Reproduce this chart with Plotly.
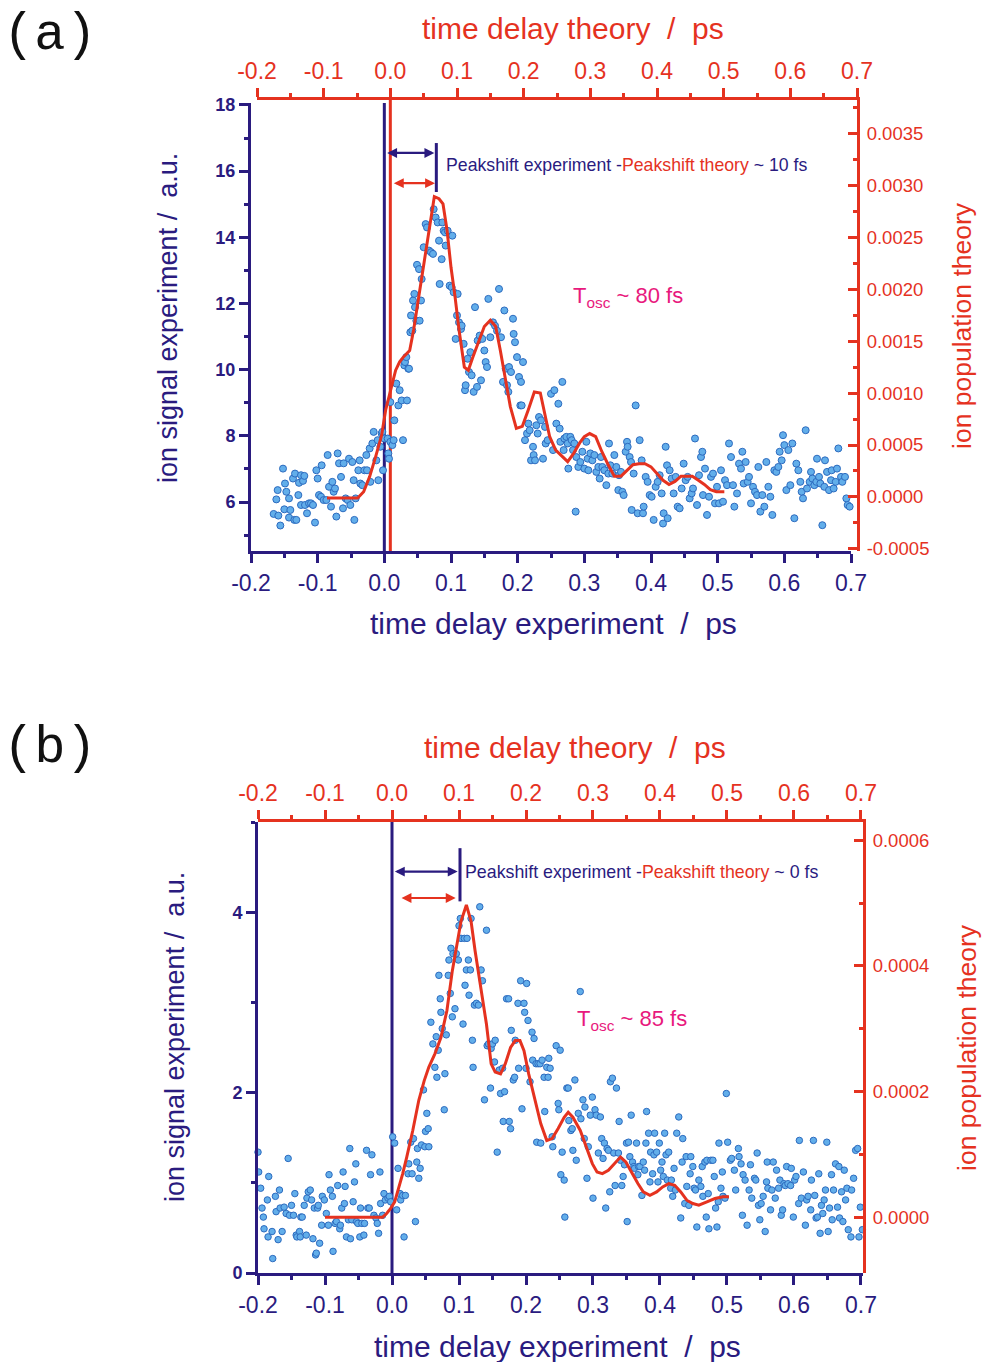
import plotly.graph_objects as go

W, H = 982, 1362
NAVY = "#2a1b7f"
RED = "#e5321f"
PINK = "#e8197d"
DOT_FILL = "#62aeea"
DOT_EDGE = "#2d6bbf"
FONT = "Liberation Sans, Arial, sans-serif"
MONO = "Liberation Mono, Courier New, monospace"

# ---------------- data: panel (a) ----------------
A_EXP = [
    (-0.166,5.64),(-0.159,5.59),(-0.162,6.08),(-0.160,6.36),(-0.156,5.29),(-0.152,7.01),(-0.150,5.78),(-0.147,6.31),
    (-0.149,6.56),(-0.143,6.11),(-0.141,5.76),(-0.143,5.53),(-0.137,6.71),(-0.135,5.46),(-0.132,5.46),(-0.134,6.86),
    (-0.129,6.21),(-0.128,6.58),(-0.125,6.81),(-0.125,5.91),(-0.122,6.64),(-0.120,6.79),(-0.119,5.91),(-0.116,5.66),
    (-0.113,5.96),(-0.110,5.96),(-0.107,5.91),(-0.104,5.38),(-0.102,6.96),(-0.100,6.71),(-0.098,6.21),(-0.095,6.16),
    (-0.094,7.11),(-0.091,6.06),(-0.087,6.06),(-0.085,7.42),(-0.083,6.46),(-0.080,5.86),(-0.078,6.61),(-0.076,6.31),
    (-0.074,6.41),(-0.072,5.56),(-0.070,7.47),(-0.068,7.17),(-0.065,6.76),(-0.062,5.81),(-0.061,7.17),(-0.058,6.11),
    (-0.055,6.06),(-0.053,7.31),(-0.051,5.91),(-0.048,7.21),(-0.046,6.66),(-0.045,5.46),(-0.043,6.11),(-0.039,6.96),
    (-0.037,7.26),(-0.036,6.56),(-0.033,6.51),(-0.030,6.96),(-0.027,7.42),(-0.026,6.96),(-0.022,7.62),(-0.021,6.61),
    (-0.018,7.77),(-0.016,8.12),(-0.012,7.26),(-0.010,7.87),(-0.009,6.66),(-0.006,7.67),(-0.004,8.07),(-0.003,8.12),
    (-0.002,6.96),(0.000,7.92),
    (0.005,7.92),(0.006,7.47),(0.007,7.31),(0.009,7.82),(0.012,7.72),(0.014,7.87),(0.009,9.02),(0.015,8.47),
    (0.018,9.58),(0.021,8.92),(0.023,9.38),(0.026,9.07),(0.028,7.87),(0.030,10.13),(0.031,10.23),(0.033,10.38),
    (0.034,9.07),(0.036,10.03),(0.037,10.03),(0.039,11.13),(0.040,11.64),(0.042,11.18),(0.043,12.09),(0.045,12.29),
    (0.046,11.89),(0.048,11.48),(0.049,13.17),(0.052,13.04),(0.053,11.48),(0.055,12.09),(0.056,12.74),(0.059,13.70),
    (0.062,14.40),(0.064,14.30),(0.067,13.60),(0.070,13.55),(0.073,13.50),(0.074,14.85),(0.077,14.60),(0.080,14.45),
    (0.082,13.90),(0.083,12.59),(0.086,13.34),(0.087,14.45),(0.089,14.20),(0.091,14.15),(0.092,13.75),(0.095,14.20),
    (0.098,12.54),(0.101,12.49),(0.102,14.05),(0.104,12.34),(0.107,10.93),(0.109,11.64),(0.110,12.29),(0.112,11.43),
    (0.115,11.23),(0.116,11.33),(0.119,10.78),(0.121,9.38),(0.122,9.53),(0.125,10.33),(0.127,9.93),(0.129,10.53),
    (0.131,9.83),(0.134,9.33),(0.136,11.89),(0.139,9.48),(0.140,10.88),(0.143,11.03),(0.145,9.68),(0.147,10.93),
    (0.150,10.58),(0.152,10.23),(0.154,10.08),(0.156,12.14),(0.159,10.98),(0.163,11.43),(0.166,11.33),(0.169,11.18),
    (0.172,12.44),(0.175,10.98),(0.178,9.63),(0.180,11.79),(0.182,10.03),(0.184,9.53),(0.186,9.33),(0.187,10.08),
    (0.190,9.93),(0.193,11.54),(0.194,11.08),(0.196,10.83),(0.199,10.38),(0.202,9.78),(0.204,8.92),(0.205,9.63),
    (0.206,8.92),(0.208,10.23),(0.211,7.87),(0.214,8.07),(0.216,8.37),(0.218,8.17),(0.220,7.26),(0.223,7.67),
    (0.224,7.42),(0.226,7.26),(0.228,8.32),(0.230,8.07),(0.232,8.57),(0.235,8.47),(0.238,7.31),(0.241,8.27),
    (0.242,7.77),(0.245,7.87),(0.250,9.27),(0.253,7.57),(0.255,9.38),(0.258,8.37),(0.261,8.97),(0.263,8.22),
    (0.264,7.82),(0.267,9.63),(0.269,7.57),(0.270,7.92),(0.273,7.97),(0.275,7.77),(0.276,7.01),(0.279,7.97),
    (0.281,7.87),(0.283,7.57),(0.285,7.77),(0.287,5.71),(0.288,7.36),(0.291,7.06),(0.294,7.21),(0.297,7.52),
    (0.300,7.01),(0.303,7.82),(0.305,7.31),(0.306,6.96),(0.309,7.47),(0.312,7.26),(0.315,7.42),(0.318,6.91),
    (0.321,7.06),(0.323,6.71),(0.325,7.36),(0.327,7.06),(0.330,6.96),(0.333,6.51),(0.336,6.86),(0.337,7.77),
    (0.339,7.11),(0.342,6.86),(0.345,7.42),(0.348,7.06),(0.351,6.36),(0.352,6.81),(0.355,6.91),(0.357,6.31),
    (0.359,6.21),(0.362,7.52),(0.364,7.82),(0.365,7.67),(0.368,7.36),(0.370,7.21),(0.371,5.76),(0.374,6.86),
    (0.377,8.92),(0.380,5.66),(0.383,7.87),(0.386,7.26),(0.388,5.66),(0.389,5.86),(0.392,6.76),(0.395,6.61),
    (0.398,6.21),(0.401,6.16),(0.404,5.46),(0.407,6.46),(0.410,6.61),(0.413,6.81),(0.416,6.26),(0.418,5.35),
    (0.419,5.66),(0.422,7.67),(0.424,7.11),(0.425,5.51),(0.428,6.96),(0.431,6.71),(0.434,6.26),(0.437,6.76),
    (0.440,5.86),(0.443,5.81),(0.446,6.41),(0.449,7.16),(0.452,6.66),(0.455,6.76),(0.458,6.11),(0.461,6.26),
    (0.463,6.41),(0.466,7.92),(0.469,5.91),(0.472,6.81),(0.475,7.36),(0.477,7.52),(0.478,6.21),(0.481,7.01),
    (0.484,5.61),(0.487,6.16),(0.490,6.76),(0.493,6.86),(0.496,5.96),(0.499,6.46),(0.502,5.96),(0.505,6.96),
    (0.508,6.01),(0.511,6.66),(0.514,6.51),(0.517,7.77),(0.520,7.36),(0.523,6.51),(0.525,5.86),(0.529,6.26),
    (0.532,7.16),(0.535,7.01),(0.537,7.52),(0.539,6.56),(0.542,7.21),(0.545,6.61),(0.547,6.76),(0.550,5.96),
    (0.553,6.46),(0.556,6.31),(0.559,6.21),(0.561,7.06),(0.564,5.71),(0.567,6.21),(0.570,5.86),(0.573,7.21),
    (0.576,6.46),(0.579,6.16),(0.582,5.61),(0.585,6.96),(0.588,6.91),(0.591,7.06),(0.593,7.52),(0.596,7.26),
    (0.598,8.02),(0.600,7.72),(0.603,6.36),(0.606,7.57),(0.609,6.51),(0.612,7.77),(0.615,5.51),(0.618,7.16),
    (0.621,6.96),(0.624,6.61),(0.626,6.31),(0.628,6.11),(0.632,8.17),(0.634,6.41),(0.638,6.61),(0.640,6.91),
    (0.642,6.71),(0.645,6.51),(0.648,6.61),(0.649,7.31),(0.652,6.76),(0.654,6.56),(0.657,5.30),(0.660,6.46),
    (0.661,7.26),(0.664,6.91),(0.667,6.36),(0.670,6.66),(0.671,6.96),(0.674,6.41),(0.677,6.61),(0.679,7.01),
    (0.681,7.62),(0.685,6.76),(0.687,6.61),(0.691,6.76),(0.693,6.11),(0.695,5.91),(0.698,5.86),(0.701,6.76),
]
A_THEORY = [
    (-0.095,-0.00001),(-0.049,-0.00001),(-0.040,0.00005),(-0.031,0.000196),(-0.022,0.000388),(-0.013,0.000596),
    (-0.007,0.000837),(0.002,0.00106),(0.008,0.00122),(0.014,0.00130),(0.020,0.00135),(0.029,0.00141),
    (0.035,0.00161),(0.041,0.00186),(0.049,0.00218),(0.058,0.00257),(0.066,0.00289),(0.073,0.00287),
    (0.079,0.00282),(0.085,0.00257),(0.091,0.00221),(0.097,0.00193),(0.103,0.00161),(0.111,0.00125),
    (0.117,0.00122),(0.124,0.00135),(0.133,0.00151),(0.141,0.00164),(0.150,0.00170),(0.158,0.00164),
    (0.165,0.00141),(0.172,0.00116),(0.180,0.00087),(0.189,0.00066),(0.198,0.00068),(0.207,0.00084),
    (0.216,0.00101),(0.225,0.00100),(0.232,0.00080),(0.239,0.00058),(0.248,0.00045),(0.257,0.00039),
    (0.266,0.00034),(0.275,0.00042),(0.284,0.00052),(0.291,0.00058),(0.299,0.00061),(0.308,0.00058),
    (0.317,0.00044),(0.326,0.00032),(0.336,0.00020),(0.346,0.00020),(0.355,0.00026),(0.364,0.00031),
    (0.373,0.00032),(0.382,0.00032),(0.391,0.00029),(0.400,0.00023),(0.409,0.00016),(0.418,0.00012),
    (0.427,0.00015),(0.436,0.00020),(0.445,0.00020),(0.453,0.00020),(0.462,0.00016),(0.471,0.00012),
    (0.480,0.00007),(0.489,0.00005),(0.501,0.00005),
]

# ---------------- data: panel (b) ----------------
B_EXP = [
    (-0.200,1.34),(-0.199,1.12),(-0.196,0.94),(-0.194,0.72),(-0.192,0.62),(-0.191,0.49),(-0.186,0.81),(-0.185,0.40),
    (-0.184,1.07),(-0.179,0.46),(-0.178,0.16),(-0.174,0.85),(-0.173,0.68),(-0.170,0.37),(-0.168,0.92),(-0.167,0.72),
    (-0.164,0.46),(-0.161,0.73),(-0.158,0.66),(-0.155,1.27),(-0.153,0.64),(-0.150,0.75),(-0.147,0.64),(-0.145,0.88),
    (-0.143,0.42),(-0.142,0.40),(-0.138,0.46),(-0.137,0.40),(-0.136,0.62),(-0.134,0.62),(-0.131,0.75),(-0.128,0.42),
    (-0.127,0.83),(-0.125,0.90),(-0.122,0.92),(-0.120,0.81),(-0.118,0.38),(-0.116,0.72),(-0.114,0.20),(-0.113,0.22),
    (-0.111,0.72),(-0.110,0.75),(-0.108,0.33),(-0.105,0.53),(-0.104,0.85),(-0.101,0.81),(-0.098,0.66),(-0.095,0.53),
    (-0.094,1.09),(-0.092,0.92),(-0.089,0.85),(-0.088,0.24),(-0.085,0.55),(-0.083,0.57),(-0.081,0.97),(-0.078,0.49),
    (-0.077,0.53),(-0.075,0.72),(-0.073,1.12),(-0.071,0.77),(-0.070,0.96),(-0.068,0.40),(-0.065,0.59),(-0.063,1.38),
    (-0.062,0.38),(-0.060,0.59),(-0.058,0.79),(-0.056,1.01),(-0.054,1.21),(-0.053,0.57),(-0.051,0.55),(-0.048,0.40),
    (-0.047,0.72),(-0.045,0.55),(-0.042,0.42),(-0.041,0.55),(-0.038,1.36),(-0.036,0.72),(-0.034,0.72),(-0.032,1.09),
    (-0.030,1.31),(-0.027,0.64),(-0.024,0.61),(-0.022,0.55),(-0.020,0.44),(-0.018,1.12),(-0.017,0.77),(-0.014,0.64),
    (-0.012,0.88),(-0.010,0.81),(-0.006,0.83),(-0.004,0.85),(-0.002,0.79),
    (0.001,1.51),(0.004,1.44),(0.007,0.70),(0.009,1.16),(0.012,0.88),(0.013,0.81),(0.016,0.86),(0.018,0.40),
    (0.020,0.86),(0.024,1.10),(0.025,1.21),(0.028,1.45),(0.030,1.10),(0.032,1.49),(0.035,0.57),(0.037,1.23),
    (0.038,1.38),(0.040,1.05),(0.042,1.16),(0.044,1.42),(0.047,2.03),(0.049,1.40),(0.050,1.57),(0.052,1.77),
    (0.054,1.60),(0.055,1.40),(0.058,2.78),(0.061,2.54),(0.064,2.28),(0.066,2.62),(0.067,2.17),(0.069,2.47),
    (0.070,3.30),(0.072,3.04),(0.073,2.89),(0.075,2.71),(0.078,1.81),(0.079,2.21),(0.081,2.64),(0.084,3.30),
    (0.085,3.47),(0.087,3.10),(0.088,3.60),(0.090,2.84),(0.091,3.54),(0.094,2.93),(0.096,3.54),(0.099,3.47),
    (0.100,3.85),(0.102,3.93),(0.103,3.71),(0.106,2.76),(0.108,3.71),(0.109,3.19),(0.111,3.36),(0.112,3.71),
    (0.114,3.47),(0.115,3.08),(0.117,3.36),(0.118,3.93),(0.120,2.58),(0.121,2.28),(0.123,2.97),(0.126,2.99),
    (0.129,2.97),(0.131,4.06),(0.133,3.36),(0.135,3.24),(0.138,1.92),(0.141,3.80),(0.142,2.52),(0.144,2.54),
    (0.147,2.05),(0.148,2.49),(0.150,2.54),(0.153,2.34),(0.154,2.58),(0.157,1.34),(0.160,2.25),(0.162,1.99),
    (0.165,2.27),(0.166,1.68),(0.168,2.01),(0.171,3.04),(0.174,3.04),(0.175,1.68),(0.177,1.60),(0.178,2.69),
    (0.181,2.14),(0.183,2.17),(0.184,2.58),(0.188,2.99),(0.189,2.27),(0.192,3.24),(0.194,1.82),(0.197,2.99),
    (0.198,2.89),(0.200,2.27),(0.201,3.21),(0.203,2.80),(0.206,2.12),(0.209,2.67),(0.210,2.36),(0.212,2.60),
    (0.215,2.32),(0.216,1.45),(0.218,2.32),(0.221,2.32),(0.222,1.44),(0.224,2.36),(0.227,2.17),(0.228,1.79),
    (0.231,2.28),(0.233,2.17),(0.234,2.38),(0.236,2.27),(0.239,1.51),(0.240,1.40),(0.245,2.52),(0.248,1.88),
    (0.249,1.81),(0.251,2.47),(0.252,1.09),(0.254,1.34),(0.257,1.03),(0.258,0.62),(0.261,2.05),(0.263,2.05),
    (0.264,1.69),(0.267,1.58),(0.269,1.60),(0.270,1.36),(0.273,2.14),(0.275,1.25),(0.278,1.77),(0.281,3.12),
    (0.282,1.71),(0.285,1.92),(0.287,1.49),(0.288,1.84),(0.291,1.05),(0.293,1.40),(0.296,1.75),(0.299,1.95),
    (0.300,0.83),(0.303,1.81),(0.305,1.75),(0.308,1.33),(0.311,1.73),(0.313,1.49),(0.315,1.27),(0.317,1.44),
    (0.319,0.72),(0.321,1.38),(0.323,1.36),(0.325,0.90),(0.326,2.12),(0.329,2.16),(0.331,1.33),(0.333,0.97),
    (0.335,2.05),(0.338,1.33),(0.339,1.68),(0.341,1.25),(0.343,0.97),(0.345,1.07),(0.347,1.20),(0.350,1.44),
    (0.351,0.57),(0.353,1.45),(0.355,1.29),(0.357,1.75),(0.359,1.23),(0.361,1.18),(0.362,1.16),(0.365,1.44),
    (0.367,1.09),(0.368,1.18),(0.370,1.18),(0.373,0.86),(0.375,1.23),(0.377,1.14),(0.379,1.44),(0.380,1.79),
    (0.383,1.55),(0.385,1.01),(0.386,1.34),(0.389,1.10),(0.391,1.31),(0.392,1.55),(0.395,1.34),(0.397,1.01),
    (0.399,1.44),(0.401,1.14),(0.403,1.23),(0.405,1.07),(0.407,1.55),(0.409,1.31),(0.411,1.03),(0.413,1.34),
    (0.416,0.94),(0.417,1.03),(0.419,0.85),(0.421,1.16),(0.423,0.92),(0.425,1.55),(0.428,1.73),(0.431,0.61),
    (0.433,1.23),(0.434,1.49),(0.437,0.77),(0.439,1.29),(0.440,0.96),(0.443,0.75),(0.445,1.10),(0.446,1.29),
    (0.449,1.18),(0.451,0.94),(0.453,0.92),(0.455,0.51),(0.458,1.03),(0.461,0.96),(0.463,1.18),(0.464,0.85),
    (0.467,1.23),(0.469,0.62),(0.470,1.25),(0.472,0.88),(0.473,0.49),(0.476,1.25),(0.479,1.25),(0.481,1.07),
    (0.483,0.72),(0.485,0.51),(0.487,0.79),(0.488,1.44),(0.491,0.94),(0.493,1.12),(0.494,0.85),(0.497,0.83),
    (0.499,1.99),(0.501,1.45),(0.505,1.25),(0.507,1.27),(0.511,1.14),(0.513,0.92),(0.517,1.38),(0.518,1.29),
    (0.521,1.21),(0.523,0.64),(0.524,1.09),(0.527,1.03),(0.530,0.53),(0.533,0.92),(0.535,1.20),(0.537,0.83),
    (0.541,1.05),(0.543,1.03),(0.545,1.33),(0.547,0.75),(0.549,0.59),(0.551,0.77),(0.554,0.85),(0.557,0.46),
    (0.559,1.01),(0.560,1.23),(0.561,0.94),(0.565,0.70),(0.567,0.92),(0.569,1.23),(0.572,0.83),(0.574,1.14),
    (0.577,0.94),(0.579,1.03),(0.581,0.64),(0.583,0.70),(0.585,0.99),(0.587,0.97),(0.589,1.18),(0.591,0.99),
    (0.595,0.97),(0.596,1.16),(0.599,0.62),(0.601,1.03),(0.603,1.07),(0.607,0.77),(0.608,1.47),(0.611,0.83),
    (0.614,1.12),(0.617,0.53),(0.619,0.81),(0.621,0.85),(0.625,0.70),(0.626,1.03),(0.629,1.47),(0.631,0.86),
    (0.633,0.61),(0.635,0.62),(0.637,1.10),(0.639,0.44),(0.641,0.75),(0.643,0.66),(0.645,0.81),(0.647,0.92),
    (0.649,1.45),(0.651,0.46),(0.653,0.72),(0.656,1.09),(0.657,0.59),(0.659,0.92),(0.662,1.21),(0.665,0.73),
    (0.667,1.18),(0.668,0.61),(0.671,0.90),(0.673,0.57),(0.675,1.14),(0.677,0.81),(0.679,0.94),(0.681,0.48),
    (0.685,0.40),(0.686,0.92),(0.689,1.05),(0.692,1.36),(0.695,1.38),(0.697,0.40),(0.699,0.73),(0.702,0.48),
]
B_THEORY = [
    (-0.100,0.0),(-0.014,0.0),(-0.008,0.0000058),(-0.002,0.0000138),(0.004,0.0000243),(0.010,0.0000455),
    (0.016,0.0000693),(0.022,0.0000957),(0.031,0.000138),(0.040,0.000186),(0.048,0.000217),(0.055,0.000239),
    (0.064,0.000260),(0.073,0.000286),(0.082,0.000329),(0.090,0.000392),(0.096,0.000429),(0.103,0.000471),
    (0.111,0.000497),(0.118,0.000471),(0.124,0.000424),(0.132,0.000366),(0.141,0.000307),(0.148,0.000244),
    (0.154,0.000231),(0.162,0.000228),(0.169,0.000244),(0.177,0.000270),(0.184,0.000281),(0.191,0.000281),
    (0.197,0.000265),(0.204,0.000228),(0.213,0.000186),(0.222,0.000149),(0.231,0.000122),(0.239,0.000125),
    (0.248,0.000141),(0.257,0.000159),(0.263,0.000167),(0.270,0.000159),(0.281,0.000138),(0.290,0.000112),
    (0.299,0.0000852),(0.306,0.0000719),(0.314,0.0000693),(0.323,0.0000746),(0.332,0.0000852),(0.341,0.0000957),
    (0.349,0.0000878),(0.357,0.0000719),(0.367,0.0000534),(0.375,0.0000402),(0.385,0.0000349),(0.395,0.0000402),
    (0.404,0.0000481),(0.413,0.0000534),(0.422,0.0000508),(0.431,0.0000402),(0.440,0.000027),(0.449,0.0000217),
    (0.458,0.000019),(0.470,0.0000243),(0.482,0.0000296),(0.494,0.0000323),(0.503,0.0000323),
]

# ---------------- tick values / labels ----------------
T_TICKS = [-0.2, -0.1, 0.0, 0.1, 0.2, 0.3, 0.4, 0.5, 0.6, 0.7]
T_LABELS = ["-0.2", "-0.1", "0.0", "0.1", "0.2", "0.3", "0.4", "0.5", "0.6", "0.7"]
A_SIG_TICKS = [6, 8, 10, 12, 14, 16, 18]
A_SIG_LABELS = ["6", "8", "10", "12", "14", "16", "18"]
A_POP_TICKS = [-0.0005, 0.0, 0.0005, 0.0010, 0.0015, 0.0020, 0.0025, 0.0030, 0.0035]
A_POP_LABELS = ["-0.0005", "0.0000", "0.0005", "0.0010", "0.0015", "0.0020", "0.0025", "0.0030", "0.0035"]
B_SIG_TICKS = [0, 2, 4]
B_SIG_LABELS = ["0", "2", "4"]
B_POP_TICKS = [0.0, 0.0002, 0.0004, 0.0006]
B_POP_LABELS = ["0.0000", "0.0002", "0.0004", "0.0006"]


def col(pairs, i):
    return [p[i] for p in pairs]


def px(x):
    return x / W


def py(y):
    return 1 - y / H


def axis(domain, rng, anchor, side, color, tv, tt, fsize, bold, ticks, minor_dtick, minor_tick0, standoff):
    return dict(
        domain=domain, range=rng, anchor=anchor, side=side,
        showline=True, linecolor=color, linewidth=3,
        ticks=ticks, ticklen=9, tickwidth=2.5, tickcolor=color,
        tickmode="array", tickvals=tv, ticktext=tt,
        tickfont=dict(family=FONT, size=fsize, color=color, weight="bold" if bold else "normal"),
        minor=dict(ticks=ticks, ticklen=4, tickwidth=2.5, tickcolor=color,
                   dtick=minor_dtick, tick0=minor_tick0, showgrid=False),
        showgrid=False, zeroline=False, fixedrange=True, automargin=False,
        ticklabelstandoff=standoff,
    )


fig = go.Figure()

marker_a = dict(size=7, color=DOT_FILL, line=dict(color=DOT_EDGE, width=1))
marker_b = dict(size=6.5, color=DOT_FILL, line=dict(color=DOT_EDGE, width=1))

fig.add_trace(go.Scatter(x=col(A_EXP, 0), y=col(A_EXP, 1), mode="markers", marker=marker_a,
                         xaxis="x", yaxis="y", cliponaxis=False, showlegend=False))
fig.add_trace(go.Scatter(x=col(A_THEORY, 0), y=col(A_THEORY, 1), mode="lines",
                         line=dict(color=RED, width=3), xaxis="x2", yaxis="y2", showlegend=False))
fig.add_trace(go.Scatter(x=col(B_EXP, 0), y=col(B_EXP, 1), mode="markers", marker=marker_b,
                         xaxis="x3", yaxis="y3", cliponaxis=False, showlegend=False))
fig.add_trace(go.Scatter(x=col(B_THEORY, 0), y=col(B_THEORY, 1), mode="lines",
                         line=dict(color=RED, width=3), xaxis="x4", yaxis="y4", showlegend=False))

A_XDOM = [px(251), px(851)]
A_X2DOM = [px(257), px(857)]
A_YDOM = [py(551), py(103)]
A_Y2DOM = [py(551), py(100)]
B_XDOM = [px(258), px(863)]
B_YDOM = [py(1273), py(822)]

fig.update_layout(
    xaxis=axis(A_XDOM, [-0.2, 0.7], "y", "bottom", NAVY, T_TICKS, T_LABELS, 23, False, "outside", 0.05, -0.2, 0),
    yaxis=axis(A_YDOM, [4.52, 18.06], "x", "left", NAVY, A_SIG_TICKS, A_SIG_LABELS, 18, True, "outside", 1, 0, 0),
    xaxis2=axis(A_X2DOM, [-0.2, 0.7], "y2", "top", RED, T_TICKS, T_LABELS, 23, False, "outside", 0.05, -0.2, 0),
    yaxis2=axis(A_Y2DOM, [-0.00052, 0.00382], "x2", "right", RED, A_POP_TICKS, A_POP_LABELS, 18.5, False, "inside", 0.00025, 0, 3),
    xaxis3=axis(B_XDOM, [-0.2, 0.703], "y3", "bottom", NAVY, T_TICKS, T_LABELS, 23, False, "outside", 0.05, -0.2, 0),
    yaxis3=axis(B_YDOM, [0, 5], "x3", "left", NAVY, B_SIG_TICKS, B_SIG_LABELS, 18, True, "outside", 1, 0, 0),
    xaxis4=axis(B_XDOM, [-0.2, 0.703], "y4", "top", RED, T_TICKS, T_LABELS, 23, False, "outside", 0.05, -0.2, 0),
    yaxis4=axis(B_YDOM, [-0.0000889, 0.000629], "x4", "right", RED, B_POP_TICKS, B_POP_LABELS, 18.5, False, "inside", 0.0001, 0, 3),
    width=W, height=H, autosize=False,
    margin=dict(l=0, r=0, t=0, b=0, pad=0, autoexpand=False),
    paper_bgcolor="white", plot_bgcolor="rgba(0,0,0,0)",
    font=dict(family=FONT, color=NAVY),
    showlegend=False,
)

shapes = [
    dict(type="line", xref="x", yref="y domain", x0=0, x1=0, y0=0, y1=1, line=dict(color=NAVY, width=3), layer="below"),
    dict(type="line", xref="x2", yref="y2 domain", x0=0, x1=0, y0=0, y1=1, line=dict(color=RED, width=3), layer="below"),
    dict(type="line", xref="x3", yref="y3 domain", x0=0, x1=0, y0=0, y1=1, line=dict(color=NAVY, width=3), layer="below"),
    dict(type="line", xref="x", yref="y", x0=0.078, x1=0.078, y0=15.37, y1=16.85, line=dict(color=NAVY, width=3)),
    dict(type="line", xref="x3", yref="y3", x0=0.1015, x1=0.1015, y0=4.12, y1=4.71, line=dict(color=NAVY, width=3)),
]
fig.update_layout(shapes=shapes)

ann = []


def arrow(xref, yref, x0, x1, y, color):
    return dict(xref=xref, yref=yref, axref=xref, ayref=yref, x=x1, y=y, ax=x0, ay=y,
                showarrow=True, arrowhead=2, arrowside="end+start", arrowsize=0.9,
                arrowwidth=2.2, arrowcolor=color, text="")


ann.append(arrow("x", "y", 0.002, 0.075, 16.55, NAVY))
ann.append(arrow("x2", "y2", 0.003, 0.067, 0.00302, RED))
ann.append(arrow("x3", "y3", 0.002, 0.098, 4.45, NAVY))
ann.append(arrow("x4", "y4", 0.012, 0.095, 0.000508, RED))

peak_a = (f"<span style='color:{NAVY}'>Peakshift experiment -</span>"
          f"<span style='color:{RED}'>Peakshift theory</span>"
          f"<span style='color:{NAVY}'> ~ 10 fs</span>")
peak_b = (f"<span style='color:{NAVY}'>Peakshift experiment -</span>"
          f"<span style='color:{RED}'>Peakshift theory</span>"
          f"<span style='color:{NAVY}'> ~ 0 fs</span>")
ann.append(dict(xref="x", yref="y", x=0.089, y=16.19, text=peak_a, showarrow=False,
                xanchor="left", yanchor="middle", font=dict(family=FONT, size=17.7, color=NAVY)))
ann.append(dict(xref="x3", yref="y3", x=0.106, y=4.45, text=peak_b, showarrow=False,
                xanchor="left", yanchor="middle", font=dict(family=FONT, size=17.8, color=NAVY)))
ann.append(dict(xref="x", yref="y", x=0.280, y=12.2, text="T<sub>osc</sub> ~ 80 fs", showarrow=False,
                xanchor="left", yanchor="middle", font=dict(family=FONT, size=22, color=PINK)))
ann.append(dict(xref="x3", yref="y3", x=0.273, y=2.8, text="T<sub>osc</sub> ~ 85 fs", showarrow=False,
                xanchor="left", yanchor="middle", font=dict(family=FONT, size=22, color=PINK)))


def ptext(x, y, text, color, size, angle=0, family=FONT, xanchor="center"):
    return dict(xref="paper", yref="paper", x=px(x), y=py(y), text=text, showarrow=False,
                xanchor=xanchor, yanchor="middle", textangle=angle,
                font=dict(family=family, size=size, color=color))


ann += [
    ptext(1, 36, "(a)", "#111111", 52, family=MONO, xanchor="left"),
    ptext(573, 28, "time delay theory  /  ps", RED, 30),
    ptext(553, 623, "time delay experiment  /  ps", NAVY, 30),
    ptext(168, 318, "ion signal experiment /  a.u.", NAVY, 27, angle=-90),
    ptext(962, 326, "ion population theory", RED, 26.5, angle=-90),
    ptext(1, 748, "(b)", "#111111", 52, family=MONO, xanchor="left"),
    ptext(575, 747, "time delay theory  /  ps", RED, 30),
    ptext(557, 1346, "time delay experiment  /  ps", NAVY, 30),
    ptext(175, 1037, "ion signal experiment /  a.u.", NAVY, 27, angle=-90),
    ptext(967, 1048, "ion population theory", RED, 26.5, angle=-90),
]
fig.update_layout(annotations=ann)

fig.write_html("out.html")
